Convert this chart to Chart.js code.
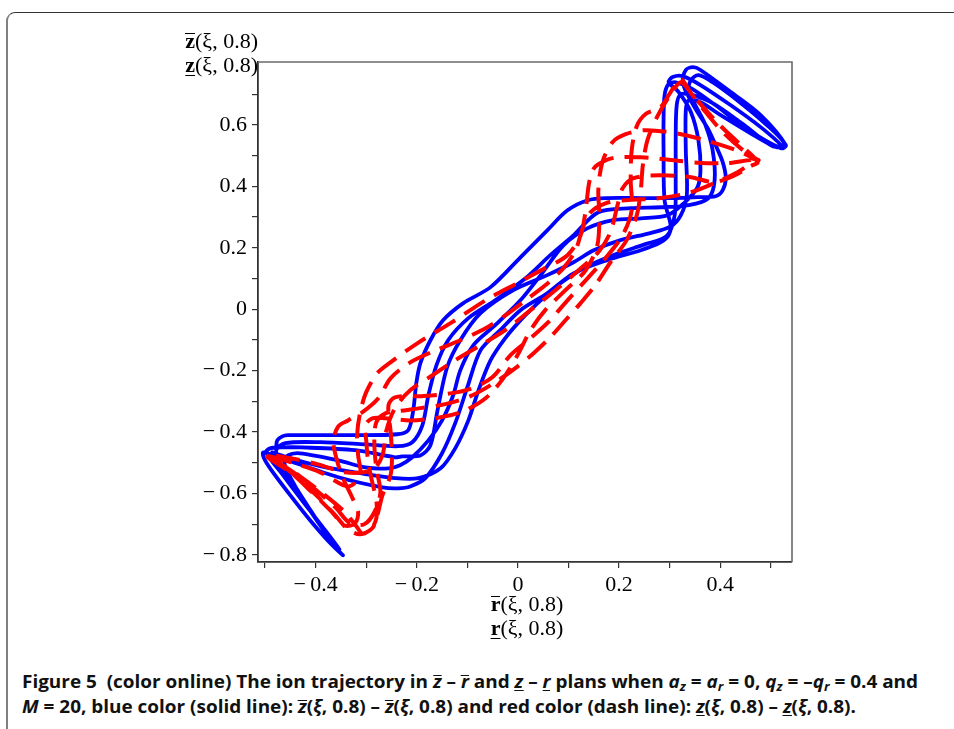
<!DOCTYPE html>
<html>
<head>
<meta charset="utf-8">
<script src="https://cdn.jsdelivr.net/npm/chart.js@4.4.0/dist/chart.umd.min.js"></script>
<style>
  html, body { margin:0; padding:0; background:#fff; }
  body { width:954px; height:729px; overflow:hidden; position:relative; }
  #frame { position:absolute; left:6px; top:12px; width:980px; height:760px;
           border-top:1px solid #333; border-left:2px solid #808080; border-top-left-radius:9px; box-sizing:border-box; }
  #wrap { position:absolute; left:0; top:0; width:954px; height:640px; }
  .ttl { position:absolute; font-family:"Liberation Serif","DejaVu Serif",serif; font-size:22px; color:#000; white-space:nowrap; line-height:24px; }
  .ttl b { font-weight:700; }
  .ov { display:inline-block; border-top:1.4px solid #000; line-height:0.6em; }
  .un { text-decoration:underline; text-decoration-thickness:1.4px; text-underline-offset:3px; }
  .cap { position:absolute; left:22px; font-family:"Open Sans","Noto Sans",sans-serif; font-weight:700; font-size:18px; color:#111;
         white-space:nowrap; transform-origin:0 50%; line-height:22px; }
  .cap i { font-style:italic; }
  .cap sub { font-size:0.7em; vertical-align:-0.25em; line-height:0; }
  .cov { display:inline-block; border-top:1.5px solid #111; line-height:0.62em; }
  .cun { display:inline-block; border-bottom:1.5px solid #111; line-height:1.0em; }
</style>
</head>
<body>
<div id="frame"></div>
<div id="wrap"><canvas id="c"></canvas></div>

<div class="ttl" id="yt1" style="right:696px; top:29px;"><b class="ov">z</b>(ξ, 0.8)</div>
<div class="ttl" id="yt2" style="right:696px; top:53px;"><b class="un">z</b>(ξ, 0.8)</div>
<div class="ttl" id="xt1" style="left:489px; top:592px;"><b class="ov">r</b>(ξ, 0.8)</div>
<div class="ttl" id="xt2" style="left:489px; top:616px;"><b class="un">r</b>(ξ, 0.8)</div>

<div class="cap" id="cap1" style="top:670px;"><span>Figure 5</span>&nbsp; (color online) The ion trajectory in <i class="cov">z</i> – <i class="cov">r</i> and <i class="cun">z</i> – <i class="cun">r</i> plans when <i>a<sub>z</sub></i> = <i>a<sub>r</sub></i> = 0, <i>q<sub>z</sub></i> = –<i>q<sub>r</sub></i> = 0.4 and</div>
<div class="cap" id="cap2" style="top:695px;"><i>M</i> = 20, blue color (solid line): <i class="cov">z</i>(<i>ξ</i>, 0.8) – <i class="cov">z</i>(<i>ξ</i>, 0.8) and red color (dash line): <i class="cun">z</i>(<i>ξ</i>, 0.8) – <i class="cun">z</i>(<i>ξ</i>, 0.8).</div>

<script>
// ---- data (r, z) ----
const blueR = [-0.478,-0.476,-0.466,-0.455,-0.391,-0.322,-0.239,-0.217,-0.207,-0.201,-0.193,-0.173,-0.148,-0.108,-0.054,0.005,0.058,0.098,0.138,0.177,0.243,0.308,0.355,0.391,0.405,0.411,0.405,0.391,0.375,0.355,0.336,0.326,0.332,0.346,0.361,0.421,0.480,0.530,0.520,0.450,0.391,0.342,0.312,0.298,0.290,0.288,0.288,0.290,0.302,0.298,0.282,0.243,0.177,0.110,0.058,0.005,-0.035,-0.074,-0.100,-0.124,-0.150,-0.183,-0.213,-0.237,-0.268,-0.355,-0.455,-0.490,-0.504,-0.500,-0.480,-0.450,-0.411,-0.371,-0.346,
  -0.359,-0.387,-0.415,-0.439,-0.455,-0.462,-0.455,-0.431,
  -0.355,-0.302,-0.256,-0.233,-0.209,-0.177,-0.150,-0.128,-0.114,-0.088,-0.045,0.005,0.045,0.090,0.138,0.189,0.243,0.296,0.328,0.355,0.361,0.357,0.342,0.318,0.298,0.306,0.326,0.361,0.421,0.480,0.520,0.510,0.460,0.401,0.361,0.338,0.332,0.332,0.334,0.322,0.302,0.262,0.203,0.150,0.110,0.058,-0.009,-0.074,-0.114,-0.140,-0.159,-0.173,-0.193,-0.229,-0.243,-0.322,-0.427,-0.470,-0.490,
  -0.498,-0.466,-0.427,-0.387,-0.353,
  -0.363,-0.395,-0.425,-0.450,-0.470,-0.478,
  -0.460,-0.391,-0.302,-0.237,-0.209,-0.189,-0.177,-0.161,-0.138,-0.098,-0.045,0.015,0.064,0.108,0.159,0.223,0.282,0.338,0.377,0.389,0.385,0.371,0.351,0.338,0.342,0.357,0.385,0.441,0.490,0.526,0.504,0.445,0.385,0.346,0.322,0.314,0.312,0.312,0.310,0.294,0.252,0.193,0.134,0.084,0.045,0.009,-0.025,-0.054,-0.078,-0.098,-0.124,-0.153,-0.197,-0.243,-0.312,-0.391,-0.450,-0.486];
const blueZ = [-0.450,-0.427,-0.414,-0.410,-0.410,-0.410,-0.407,-0.394,-0.329,-0.241,-0.176,-0.101,-0.036,0.020,0.072,0.169,0.257,0.322,0.355,0.362,0.362,0.362,0.365,0.368,0.388,0.427,0.479,0.534,0.590,0.642,0.697,0.739,0.779,0.788,0.779,0.707,0.632,0.534,0.524,0.590,0.664,0.720,0.739,0.733,0.697,0.616,0.518,0.355,0.274,0.241,0.218,0.192,0.160,0.117,0.052,-0.003,-0.068,-0.134,-0.254,-0.371,-0.469,-0.550,-0.577,-0.583,-0.580,-0.547,-0.492,-0.472,-0.466,-0.492,-0.541,-0.606,-0.687,-0.762,-0.801,
  -0.779,-0.713,-0.642,-0.580,-0.531,-0.498,-0.476,-0.469,
  -0.492,-0.515,-0.518,-0.508,-0.482,-0.427,-0.362,-0.280,-0.199,-0.117,-0.052,0.029,0.111,0.208,0.264,0.290,0.296,0.306,0.345,0.397,0.453,0.550,0.642,0.707,0.739,0.756,0.759,0.730,0.664,0.593,0.534,0.528,0.573,0.632,0.674,0.681,0.648,0.518,0.371,0.306,0.270,0.248,0.225,0.192,0.153,0.111,0.062,-0.013,-0.101,-0.189,-0.329,-0.443,-0.476,-0.479,-0.482,-0.459,-0.450,-0.450,-0.453,
  -0.466,-0.537,-0.622,-0.707,-0.782,
  -0.769,-0.694,-0.622,-0.557,-0.508,-0.459,
  -0.436,-0.433,-0.440,-0.446,-0.433,-0.378,-0.280,-0.182,-0.101,-0.029,0.029,0.101,0.176,0.238,0.316,0.329,0.332,0.339,0.362,0.420,0.518,0.599,0.664,0.707,0.746,0.762,0.739,0.671,0.603,0.541,0.531,0.603,0.671,0.697,0.700,0.664,0.550,0.420,0.306,0.238,0.212,0.179,0.137,0.085,0.029,-0.029,-0.094,-0.166,-0.264,-0.362,-0.453,-0.518,-0.550,-0.550,-0.534,-0.511,-0.485,-0.466];
const redR = [-0.498,-0.470,-0.431,-0.381,-0.342,-0.318,-0.308,-0.292,-0.280,-0.280,-0.288,-0.296,-0.300,-0.302,-0.288,-0.262,-0.213,-0.153,-0.108,-0.064,-0.029,-0.001,0.025,0.054,0.094,0.134,0.157,0.161,0.159,0.167,0.187,0.213,0.252,0.312,0.371,0.431,0.476,0.450,0.405,0.371,0.342,0.322,0.302,0.282,0.252,0.235,0.225,0.223,0.225,0.207,0.173,0.134,0.098,0.060,0.025,-0.015,-0.050,-0.090,-0.134,-0.193,-0.243,-0.256,-0.252,-0.249,-0.252,-0.268,-0.278,-0.288,-0.312,-0.336,-0.361,-0.395,-0.431,-0.464,-0.494,-0.450,-0.391,-0.336,-0.312,-0.316,-0.318,-0.312,-0.300,-0.278,-0.252,-0.199,-0.134,-0.060,-0.001,0.054,0.098,0.124,0.134,0.140,0.148,0.159,0.187,0.243,0.308,0.361,0.417,0.464,0.441,0.401,0.342,0.282,0.213,0.173,0.144,0.128,0.114,0.090,0.054,0.015,-0.025,-0.064,-0.114,-0.163,-0.213,-0.252,
  -0.276,-0.308,-0.336,-0.355,-0.365,-0.359,-0.346,-0.328,-0.316,
  -0.322,-0.342,-0.371,-0.411,-0.450,-0.498,
  -0.450,-0.395,-0.342,-0.288,-0.268,-0.260,-0.243,-0.213,-0.169,-0.124,-0.074,-0.025,0.025,0.074,0.120,0.159,0.183,0.197,0.207,0.229,0.282,0.342,0.387,0.425,0.460,0.474,0.441,0.397,0.361,0.338,0.322,0.302,0.276,0.256,0.247,0.243,0.235,0.215,0.183,0.153,0.124,0.094,0.064,0.031,-0.005,-0.045,-0.094,-0.144,-0.193,-0.237,-0.262,-0.280,-0.284,-0.280,-0.272,-0.284,-0.304,-0.332,-0.361,-0.401,-0.450,-0.494];
const redZ = [-0.476,-0.502,-0.544,-0.606,-0.661,-0.710,-0.730,-0.720,-0.681,-0.622,-0.564,-0.498,-0.427,-0.378,-0.355,-0.355,-0.362,-0.352,-0.332,-0.290,-0.225,-0.150,-0.068,-0.003,0.062,0.127,0.208,0.306,0.388,0.479,0.544,0.570,0.583,0.573,0.550,0.518,0.485,0.511,0.577,0.642,0.704,0.749,0.707,0.658,0.635,0.596,0.518,0.420,0.322,0.241,0.166,0.094,0.029,-0.042,-0.094,-0.150,-0.221,-0.257,-0.274,-0.283,-0.287,-0.313,-0.394,-0.476,-0.541,-0.606,-0.671,-0.713,-0.733,-0.717,-0.671,-0.612,-0.557,-0.511,-0.479,-0.498,-0.531,-0.577,-0.541,-0.476,-0.410,-0.336,-0.270,-0.208,-0.173,-0.111,-0.046,0.033,0.085,0.134,0.176,0.241,0.322,0.404,0.453,0.472,0.492,0.495,0.485,0.476,0.476,0.485,0.453,0.420,0.381,0.362,0.355,0.345,0.316,0.264,0.192,0.134,0.078,0.029,-0.020,-0.062,-0.101,-0.134,-0.173,-0.225,
  -0.290,-0.336,-0.362,-0.381,-0.427,-0.485,-0.550,-0.612,-0.661,
  -0.697,-0.704,-0.655,-0.590,-0.531,-0.476,
  -0.485,-0.505,-0.531,-0.524,-0.476,-0.394,-0.322,-0.264,-0.215,-0.166,-0.117,-0.068,-0.003,0.062,0.127,0.186,0.251,0.339,0.394,0.427,0.436,0.430,0.414,0.433,0.466,0.479,0.534,0.603,0.668,0.713,0.739,0.700,0.629,0.550,0.469,0.388,0.306,0.225,0.153,0.078,0.020,-0.036,-0.091,-0.143,-0.192,-0.238,-0.283,-0.309,-0.322,-0.332,-0.339,-0.368,-0.433,-0.518,-0.596,-0.661,-0.700,-0.697,-0.645,-0.586,-0.524,-0.482];

// ---- axes ----
const xRange = [-0.514, 0.542];
const yRange = [-0.823, 0.805];
const xTicks = [-0.5,-0.4,-0.3,-0.2,-0.1,0,0.1,0.2,0.3,0.4,0.5];
const yTicks = [-0.8,-0.7,-0.6,-0.5,-0.4,-0.3,-0.2,-0.1,0,0.1,0.2,0.3,0.4,0.5,0.6,0.7];
const xLabelAt = [-0.4,-0.2,0,0.2,0.4];
const xTickLabels = ["\u2212\u20090.4","\u2212\u20090.2","0","0.2","0.4"];
const yLabelAt = [-0.8,-0.6,-0.4,-0.2,0,0.2,0.4,0.6];
const yTickLabels = ["\u2212\u20090.8","\u2212\u20090.6","\u2212\u20090.4","\u2212\u20090.2","0","0.2","0.4","0.6"];

const toPts = (xs, ys) => xs.map((v, i) => ({x: v, y: ys[i]}));
const labelFor = (v, at, labels) => {
  const k = at.findIndex(a => Math.abs(a - v) < 1e-6);
  return k >= 0 ? labels[k] : '';
};

const boxPlugin = {
  id: 'box',
  afterDraw(chart) {
    const {ctx, chartArea: a} = chart;
    ctx.save();
    ctx.strokeStyle = '#6a6a6a';
    ctx.lineWidth = 1.6;
    ctx.beginPath();
    ctx.moveTo(a.left, a.top);
    ctx.lineTo(a.right, a.top);
    ctx.lineTo(a.right, a.bottom);
    ctx.stroke();
    ctx.restore();
  }
};

const tickFont = {family: 'Liberation Serif', size: 22};

new Chart(document.getElementById('c'), {
  type: 'scatter',
  data: {
    datasets: [
      { label: 'red', data: toPts(redR, redZ), showLine: true, borderColor: '#ff0000', borderWidth: 4,
        borderDash: [24, 11], borderCapStyle: 'butt', borderJoinStyle: 'round', pointRadius: 0, tension: 0.3, order: 0 },
      { label: 'blue', data: toPts(blueR, blueZ), showLine: true, borderColor: '#0000ff', borderWidth: 3.8,
        borderCapStyle: 'round', borderJoinStyle: 'round', pointRadius: 0, tension: 0.3, order: 1 }
    ]
  },
  options: {
    responsive: true, maintainAspectRatio: false, animation: false,
    layout: { padding: { left: 0, right: 162, top: 62, bottom: 0 } },
    plugins: { legend: { display: false }, tooltip: { enabled: false } },
    scales: {
      x: {
        type: 'linear', min: xRange[0], max: xRange[1],
        afterBuildTicks: s => { s.ticks = xTicks.map(v => ({value: v})); },
        afterFit: s => { s.height = 78; },
        ticks: { autoSkip: false, maxRotation: 0, color: '#000', font: tickFont, padding: 4,
                 callback: v => labelFor(v, xLabelAt, xTickLabels) },
        grid: { drawOnChartArea: false, drawTicks: true, tickLength: 6, color: '#333', lineWidth: 1.2 },
        border: { color: '#333', width: 1.8 }
      },
      y: {
        type: 'linear', min: yRange[0], max: yRange[1],
        afterBuildTicks: s => { s.ticks = yTicks.map(v => ({value: v})); },
        afterFit: s => { s.width = 258; },
        ticks: { autoSkip: false, color: '#000', font: tickFont, padding: 5,
                 callback: v => labelFor(v, yLabelAt, yTickLabels) },
        grid: { drawOnChartArea: false, drawTicks: true, tickLength: 6, color: '#333', lineWidth: 1.2 },
        border: { color: '#333', width: 1.8 }
      }
    }
  },
  plugins: [boxPlugin]
});

// fit caption lines to the reference line width and centre the x title
(function () {
  const c1 = document.getElementById('cap1'), c2 = document.getElementById('cap2');
  const w = c1.getBoundingClientRect().width;
  const s = 896 / w;
  c1.style.transform = 'scaleX(' + s + ')';
  c2.style.transform = 'scaleX(' + s + ')';
  ['xt1','xt2'].forEach(id => {
    const el = document.getElementById(id);
    const ww = el.getBoundingClientRect().width;
    el.style.left = (527 - ww / 2) + 'px';
  });
})();
</script>
</body>
</html>
